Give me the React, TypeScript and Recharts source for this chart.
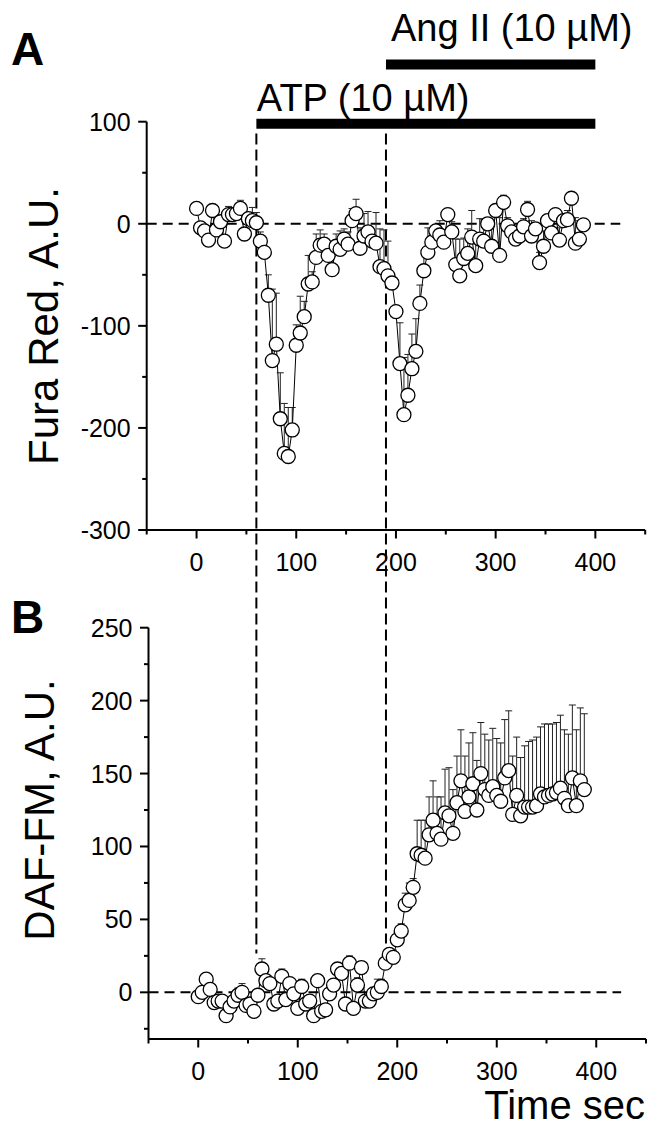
import React from 'react';
import { ComposedChart, Line, XAxis, YAxis, ErrorBar, ReferenceLine } from 'recharts';

const FONT = '"Liberation Sans", Arial, Helvetica, sans-serif';

// time points (s)
const timeSec = [
  0, 4, 8, 12, 16, 20, 24, 28, 32, 36,
  40, 44, 48, 52, 56, 60, 64, 68, 72, 76,
  80, 84, 88, 92, 96, 100, 104, 108, 112, 116,
  120, 124, 128, 132, 136, 140, 144, 148, 152, 156,
  160, 164, 168, 172, 176, 180, 184, 188, 192, 196,
  200, 204, 208, 212, 216, 220, 224, 228, 232, 236,
  240, 244, 248, 252, 256, 260, 264, 268, 272, 276,
  280, 284, 288, 292, 296, 300, 304, 308, 312, 316,
  320, 324, 328, 332, 336, 340, 344, 348, 352, 356,
  360, 364, 368, 372, 376, 380, 384, 388,
];

// Panel A: Fura Red (A.U.)
const furaRed = [
  15, -4, -7, -16, 13, -6, 2, -17, 9, 9,
  10, 15, -10, 5, 3, 1, -17, -28, -70, -134,
  -118, -191, -225, -228, -202, -119, -107, -91, -59, -57,
  -33, -21, -20, -31, -45, -22, -25, -15, -20, 3,
  10, -24, -12, -8, -17, -19, -42, -44, -51, -58,
  -86, -137, -187, -168, -142, -125, -78, -46, -28, -18,
  -7, -11, -18, 9, -8, -40, -51, -34, -29, -13,
  -41, -15, -17, 0, -22, 13, -31, 21, -2, -8,
  -15, -12, -3, 14, -12, -5, -38, -22, 3, -9,
  9, -16, 3, 4, 25, -19, -15, -1,
];
const furaRedErr = [
  3, 5, 4, 3, 4, 6, 5, 3, 8, 7,
  6, 8, 4, 6, 13, 10, 9, 5, 20, 70,
  50, 45, 49, 48, 22, 20, 36, 15, 28, 10,
  23, 15, 10, 10, 13, 12, 18, 10, 12, 12,
  14, 20, 22, 20, 10, 30, 37, 38, 34, 4,
  6, 40, 56, 40, 34, 32, 18, 20, 24, 5,
  6, 14, 8, 4, 10, 25, 36, 20, 24, 26,
  31, 20, 21, 5, 20, 5, 37, 7, 8, 6,
  5, 6, 8, 8, 15, 6, 10, 15, 6, 8,
  5, 12, 6, 9, 5, 25, 18, 5,
];

// Panel B: DAF-FM (A.U.)
const dafFm = [
  -3, 0, 9, 2, -7, -6, -6, -16, -10, -6,
  -2, 0, -9, -8, -13, -2, 16, 8, 6, -8,
  -6, 11, -5, 6, -1, -11, 4, -8, -6, -16,
  8, -13, -12, -1, 5, 16, 13, -8, 20, -11,
  5, 17, -6, -6, -1, 0, 4, 20, 26, 24,
  36, 42, 60, 63, 72, 95, 94, 92, 108, 118,
  109, 105, 123, 121, 109, 130, 145, 124, 134, 143,
  125, 150, 139, 135, 141, 135, 131, 147, 152, 122,
  135, 121, 127, 127, 127, 128, 136, 134, 135, 136,
  137, 140, 133, 128, 147, 128, 145, 139,
];
const dafFmErr = [
  3, 3, 3, 3, 2, 2, 3, 2, 3, 5,
  5, 6, 3, 3, 3, 3, 7, 4, 3, 3,
  3, 5, 3, 3, 3, 3, 5, 3, 3, 2,
  3, 2, 2, 3, 3, 3, 3, 4, 5, 3,
  5, 3, 4, 3, 4, 9, 5, 5, 4, 5,
  5, 5, 8, 12, 6, 23, 24, 26, 26, 27,
  25, 29, 30, 33, 30, 32, 35, 38, 37, 35,
  34, 35, 38, 38, 40, 39, 40, 40, 41, 40,
  40, 40, 42, 45, 46, 47, 46, 50, 49, 48,
  48, 50, 47, 49, 50, 52, 50, 52,
];

// axes
const xTicks = [-50, 0, 50, 100, 150, 200, 250, 300, 350, 400, 450];
const xTickLabels = [0, 100, 200, 300, 400];
const furaTicks = [-300, -250, -200, -150, -100, -50, 0, 50, 100];
const furaTickLabels = [-300, -200, -100, 0, 100];
const dafTicks = [-25, 0, 25, 50, 75, 100, 125, 150, 175, 200, 225, 250];
const dafTickLabels = [0, 50, 100, 150, 200, 250];

// stimulus periods
const atpStart = 60;
const angStart = 190;
const stimEnd = 400;

const dataA = timeSec.map((t, i) => ({ t, v: furaRed[i], e: [0, furaRedErr[i]] }));
const dataB = timeSec.map((t, i) => ({ t, v: dafFm[i], e: [0, dafFmErr[i]] }));

const makeYTick = (labels: number[]) => (p: any) => {
  const v = p.payload.value;
  const major = labels.includes(v);
  const len = major ? 8.5 : 4.5;
  return (
    <g>
      <line x1={p.x - len} x2={p.x} y1={p.y} y2={p.y} stroke="#000" strokeWidth={2} />
      {major ? (
        <text x={p.x - 16} y={p.y + 9} textAnchor="end" fontSize={25} fontFamily={FONT} fill="#000">
          {v}
        </text>
      ) : null}
    </g>
  );
};

const makeXTick = (labels: number[]) => (p: any) => {
  const v = p.payload.value;
  const major = labels.includes(v);
  const len = major ? 8.5 : 4.5;
  return (
    <g>
      <line x1={p.x} x2={p.x} y1={p.y} y2={p.y + len} stroke="#000" strokeWidth={2} />
      {major ? (
        <text x={p.x} y={p.y + 41} textAnchor="middle" fontSize={25} fontFamily={FONT} fill="#000">
          {v}
        </text>
      ) : null}
    </g>
  );
};

const dotStyle = { r: 7, fill: '#fff', stroke: '#000', strokeWidth: 1.3 };

const labelA = () => (
  <g>
    <text x={11} y={65} fontSize={46} fontWeight="bold" fontFamily={FONT} fill="#000">A</text>
    <text transform="translate(58,326) rotate(-90)" textAnchor="middle" fontSize={42} fontFamily={FONT} fill="#000">
      Fura Red, A.U.
    </text>
  </g>
);

const labelB = () => (
  <g>
    <text x={11} y={53} fontSize={46} fontWeight="bold" fontFamily={FONT} fill="#000">B</text>
    <text transform="translate(54,230) rotate(-90)" textAnchor="middle" fontSize={42} fontFamily={FONT} fill="#000">
      DAF-FM, A.U.
    </text>
  </g>
);

const labelTime = () => (
  <text x={645} y={539} textAnchor="end" fontSize={40} fontFamily={FONT} fill="#000">Time sec</text>
);

const barLabel = (text: string, dx: number, dy: number) => (p: any) => {
  const vb = p.viewBox || { x: 0, y: 0 };
  return (
    <text x={vb.x + dx} y={vb.y + dy} fontSize={38} fontFamily={FONT} fill="#000">{text}</text>
  );
};

export default function App() {
  return (
    <div style={{ position: 'absolute', left: 0, top: 0, width: 647, height: 1121, background: '#fff' }}>
      <style>{'.recharts-surface{overflow:visible}'}</style>
      <div style={{ position: 'absolute', left: 0, top: 0 }}>
        <ComposedChart width={647} height={580} data={dataA} margin={{ top: 121.7, right: 1.8, bottom: 0, left: 0 }}>
          <XAxis
            type="number"
            dataKey="t"
            domain={[-50, 450]}
            ticks={xTicks}
            interval={0}
            tickSize={0}
            tickMargin={0}
            tickLine={false}
            axisLine={{ stroke: '#000', strokeWidth: 2 }}
            tick={makeXTick(xTickLabels)}
            height={50}
          />
          <YAxis
            type="number"
            domain={[-300, 100]}
            ticks={furaTicks}
            interval={0}
            tickSize={0}
            tickMargin={0}
            tickLine={false}
            axisLine={{ stroke: '#000', strokeWidth: 2 }}
            tick={makeYTick(furaTickLabels)}
            width={146.7}
            label={labelA}
          />
          <ReferenceLine segment={[{ x: -50, y: 0 }, { x: 425, y: 0 }]} stroke="#000" strokeWidth={2} strokeDasharray="10 6" />
          <ReferenceLine
            segment={[{ x: atpStart, y: 88.5 }, { x: atpStart, y: -715 }]}
            ifOverflow="visible"
            stroke="#000"
            strokeWidth={2}
            strokeDasharray="11 5"
          />
          <ReferenceLine
            segment={[{ x: angStart, y: 88.5 }, { x: angStart, y: -705 }]}
            ifOverflow="visible"
            stroke="#000"
            strokeWidth={2}
            strokeDasharray="11 5"
          />
          <ReferenceLine
            segment={[{ x: atpStart, y: 98 }, { x: stimEnd, y: 98 }]}
            ifOverflow="visible"
            stroke="#000"
            strokeWidth={10}
            label={barLabel('ATP (10 µM)', 0.5, -13)}
          />
          <ReferenceLine
            segment={[{ x: angStart, y: 156 }, { x: stimEnd, y: 156 }]}
            ifOverflow="visible"
            stroke="#000"
            strokeWidth={10}
            label={barLabel('Ang II (10 µM)', 5, -24)}
          />
          <Line
            type="linear"
            dataKey="v"
            stroke="#000"
            strokeWidth={1}
            dot={dotStyle}
            activeDot={false}
            isAnimationActive={false}
          >
            <ErrorBar dataKey="e" direction="y" width={3.5} stroke="#222" strokeWidth={1} isAnimationActive={false} />
          </Line>
        </ComposedChart>
      </div>
      <div style={{ position: 'absolute', left: 0, top: 580 }}>
        <ComposedChart width={647} height={541} data={dataB} margin={{ top: 47.7, right: 1, bottom: 0, left: 0 }}>
          <XAxis
            type="number"
            dataKey="t"
            domain={[-50, 450]}
            ticks={xTicks}
            interval={0}
            tickSize={0}
            tickMargin={0}
            tickLine={false}
            axisLine={{ stroke: '#000', strokeWidth: 2 }}
            tick={makeXTick(xTickLabels)}
            height={82}
            label={labelTime}
          />
          <YAxis
            type="number"
            domain={[-32, 250]}
            ticks={dafTicks}
            interval={0}
            tickSize={0}
            tickMargin={0}
            tickLine={false}
            axisLine={{ stroke: '#000', strokeWidth: 2 }}
            tick={makeYTick(dafTickLabels)}
            width={148.5}
            label={labelB}
          />
          <ReferenceLine segment={[{ x: -50, y: 0 }, { x: 425, y: 0 }]} stroke="#000" strokeWidth={2} strokeDasharray="10 6" />
          <Line
            type="linear"
            dataKey="v"
            stroke="#000"
            strokeWidth={1}
            dot={dotStyle}
            activeDot={false}
            isAnimationActive={false}
          >
            <ErrorBar dataKey="e" direction="y" width={3.5} stroke="#222" strokeWidth={1} isAnimationActive={false} />
          </Line>
        </ComposedChart>
      </div>
    </div>
  );
}
